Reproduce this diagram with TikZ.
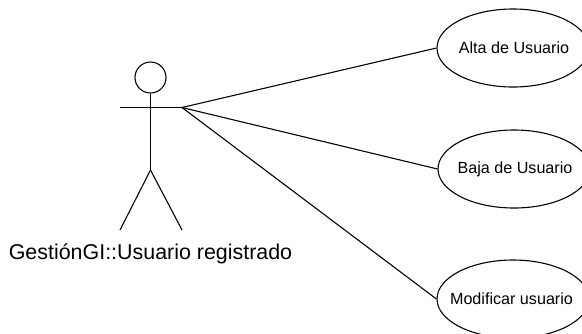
\documentclass[tikz,border=0pt]{standalone}
\usepackage{fontspec}
\setmainfont{Liberation Sans}
\usetikzlibrary{shapes.geometric}
\tikzset{
  usecase/.style={draw=black,ellipse,line width=1.1pt,minimum width=152bp,minimum height=78bp,inner sep=0pt,font=\fontsize{16.2}{18}\selectfont,text=black},
  stroke/.style={draw=black,line width=1.1pt},
  head/.style={draw=black,circle,line width=1.1pt,minimum size=31bp,inner sep=0pt},
  actorlabel/.style={inner sep=0pt,font=\fontsize{21.5}{24}\selectfont,text=black}
}
\newcommand{\uclabel}[1]{\makebox[0pt]{\hspace*{2bp}#1}}
\newcommand{\uclabelleft}[1]{\makebox[0pt]{#1\hspace*{3bp}}}
\begin{document}
\begin{tikzpicture}[x=1bp,y=-1bp]
\useasboundingbox (0,0) rectangle (582,333);
\fill[white] (0,0) rectangle (582,333);
\node[head] (headc) at (150.5,77.5) {};
\coordinate (hip) at (150.5,170);
\coordinate (lhand) at (120,107.5);
\coordinate (rhand) at (182,107.5);
\coordinate (lfoot) at (120,230);
\coordinate (rfoot) at (182,230);
\draw[stroke] (headc.south) -- (hip);
\draw[stroke] (lhand) -- (rhand);
\draw[stroke] (hip) -- (lfoot);
\draw[stroke] (hip) -- (rfoot);
\node[actorlabel] (actorname) at (150.5,253.5) {GestiónGI::Usuario registrado};
\node[usecase] (alta) at (513,48) {\uclabel{Alta de Usuario}};
\node[usecase] (baja) at (514,169) {\uclabel{Baja de Usuario}};
\node[usecase] (modif) at (513,299) {\uclabelleft{Modificar usuario}};
\draw[stroke] (rhand) -- (alta.west);
\draw[stroke] (rhand) -- (baja.west);
\draw[stroke] (rhand) -- (modif.west);
\end{tikzpicture}
\end{document}
